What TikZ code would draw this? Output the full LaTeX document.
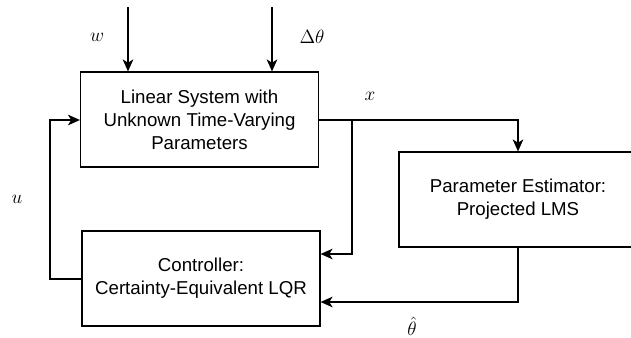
\documentclass[tikz,border=0pt]{standalone}
\usepackage{fontspec}
\setmainfont{Liberation Sans}
\usetikzlibrary{arrows.meta}
\begin{document}
\begin{tikzpicture}[x=0.75pt, y=-0.75pt, line width=0.9pt,
				block/.style={draw=black, minimum width=178.5pt, minimum height=71.25pt, inner sep=2pt, align=center, font=\fontsize{14}{17.2}\selectfont},
				lbl/.style={inner sep=0, font=\fontsize{15.5}{18}\selectfont},
				flow/.style={-{Stealth[length=9pt, width=8pt, inset=2.5pt]}}]
				
				\useasboundingbox (0,0) rectangle (631,337);
				\clip (0,0) rectangle (631,337);
				
				\node [block] (sys) at (199.5,119.5) {Linear System with\\Unknown Time-Varying\\Parameters};
				\node [block] (ctrl) at (201,278.5) {Controller:\\Certainty-Equivalent LQR};
				\node [block] (est) at (518,199.5) {Parameter Estimator:\\Projected LMS};
				
				\coordinate (win) at (128,7);
				\coordinate (dthin) at (272,7);
				\coordinate (split) at (352,120);
				\coordinate (uturn) at (50,279);
				
				\node [lbl] (wl) at (97,37) {$w$};
				\node [lbl] (dthl) at (312,37) {$\Delta\theta$};
				\node [lbl] (xl) at (370,96) {$x$};
				\node [lbl] (thl) at (412,326) {$\hat{\theta}$};
				\node [lbl] (ul) at (17,199) {$u$};
				
				\begin{scope}[flow]
				\draw (win) -- (win |- sys.north);
				\draw (dthin) -- (dthin |- sys.north);
				\draw (sys.east |- split) -| (est.north);
				\draw (split) |- (ctrl.east |- 0,254);
				\draw (est.south) |- (ctrl.east |- 0,302);
				\draw (ctrl.west |- uturn) -- (uturn) |- (sys.west |- split);
				\end{scope}
				\end{tikzpicture}
\end{document}
